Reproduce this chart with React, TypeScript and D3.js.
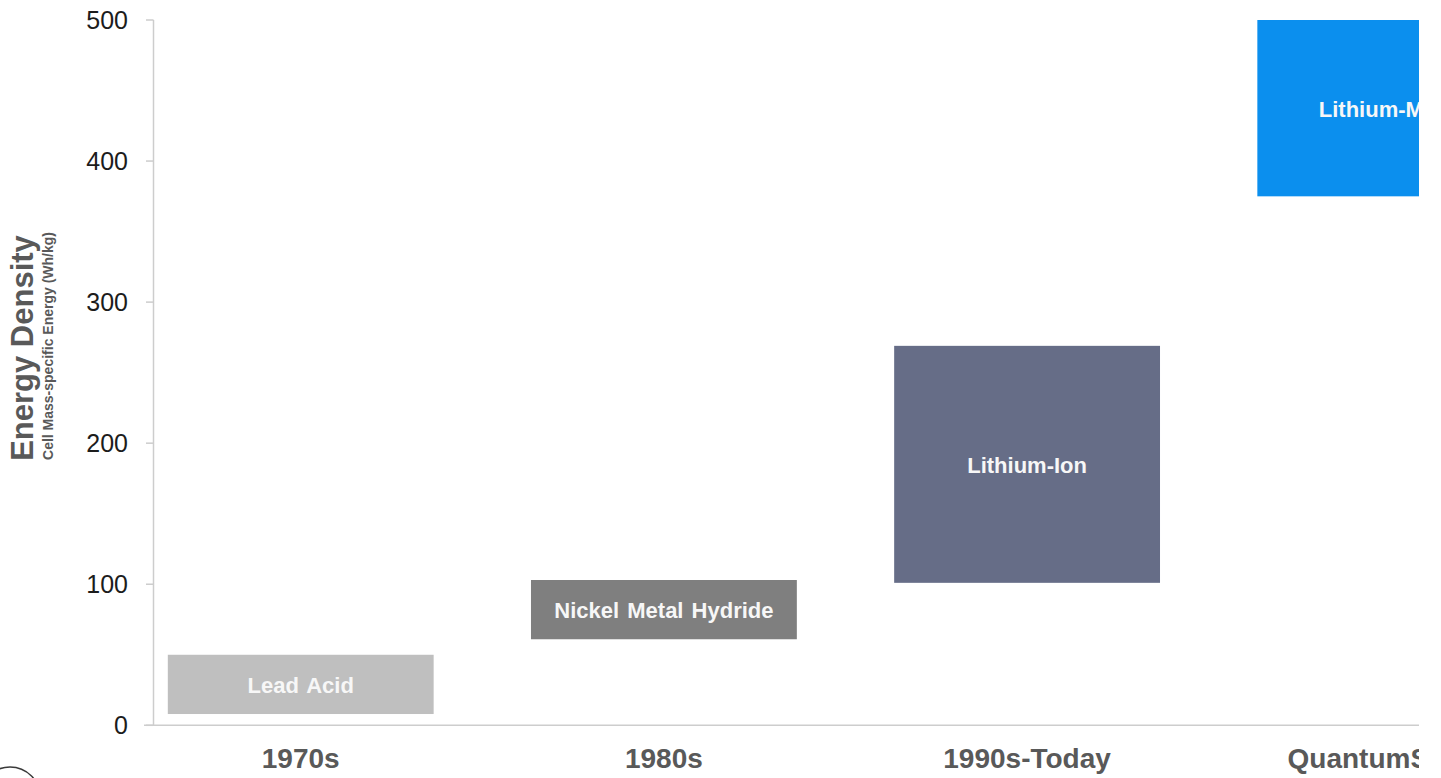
import React from "react";
import * as d3 from "d3";

// Battery generations and their cell-level energy density ranges (Wh/kg)
const eras = ["1970s", "1980s", "1990s-Today", "QuantumScape"];
const chemistries = ["Lead Acid", "Nickel Metal Hydride", "Lithium-Ion", "Lithium-Metal"];
const lowValues = [8, 61, 101, 375];
const highValues = [50, 103, 269, 500];
const barColors = ["#bfbfbf", "#7f7f7f", "#666d87", "#0b8fee"];
const yTicks = [0, 100, 200, 300, 400, 500];

const W = 1441;
const H = 778;
const FONT = "'Liberation Sans', Arial, Helvetica, sans-serif";

export default function App() {
  const axisX = 153.5;
  const baseY = 725.3;
  const clipRight = 1419;

  const y = d3.scaleLinear().domain([0, 500]).range([baseY, 20]);
  const x = d3
    .scaleBand<string>()
    .domain(eras)
    .range([axisX, 1537.5])
    .paddingInner(0.268)
    .paddingOuter(0.0394);

  const rows = eras.map((era, i) => ({
    era,
    name: chemistries[i],
    lo: lowValues[i],
    hi: highValues[i],
    color: barColors[i],
  }));

  return (
    <div style={{ position: "absolute", left: 0, top: 0, width: W, height: H, background: "#fff" }}>
      <svg width={W} height={H} style={{ display: "block", fontFamily: FONT }}>
        <defs>
          <clipPath id="plot-clip">
            <rect x={0} y={0} width={clipRight} height={H} />
          </clipPath>
        </defs>

        {/* y axis title */}
        <text
          transform={`translate(33,348) rotate(-90)`}
          textAnchor="middle"
          fontSize={31}
          fontWeight="bold"
          fill="#595959"
        >
          Energy Density
        </text>
        <text
          transform={`translate(52.5,346) rotate(-90)`}
          textAnchor="middle"
          fontSize={14}
          fontWeight="bold"
          fill="#595959"
        >
          Cell Mass-specific Energy (Wh/kg)
        </text>

        {/* y axis */}
        <line x1={axisX} x2={axisX} y1={y(500)} y2={baseY} stroke="#cdcdcd" strokeWidth={1.5} />
        {yTicks.map((t) => (
          <g key={t}>
            <line x1={146} x2={axisX} y1={y(t)} y2={y(t)} stroke="#cdcdcd" strokeWidth={1.5} />
            <text
              x={128}
              y={y(t)}
              textAnchor="end"
              dominantBaseline="central"
              fontSize={25}
              fill="#1c1c1c"
            >
              {t}
            </text>
          </g>
        ))}

        <g clipPath="url(#plot-clip)">
          {/* x axis baseline */}
          <line x1={144} x2={W} y1={baseY} y2={baseY} stroke="#cdcdcd" strokeWidth={1.5} />

          {rows.map((r) => {
            const bx = x(r.era) as number;
            const bw = x.bandwidth();
            const top = y(r.hi);
            const bottom = y(r.lo);
            return (
              <g key={r.era}>
                <rect x={bx} y={top} width={bw} height={bottom - top} fill={r.color} />
                <text
                  x={bx + bw / 2}
                  y={(top + bottom) / 2 + 1}
                  textAnchor="middle"
                  dominantBaseline="central"
                  fontSize={22}
                  fontWeight="bold"
                  fill="#f7f7f7"
                  wordSpacing={2}
                >
                  {r.name}
                </text>
                <text
                  x={bx + bw / 2}
                  y={768}
                  textAnchor="middle"
                  fontSize={28}
                  fontWeight="bold"
                  fill="#595959"
                >
                  {r.era}
                </text>
              </g>
            );
          })}
        </g>

        {/* decorative ring in the lower-left corner */}
        <circle cx={10} cy={797} r={30} fill="none" stroke="#3a3a3a" strokeWidth={1.5} />
      </svg>
    </div>
  );
}
